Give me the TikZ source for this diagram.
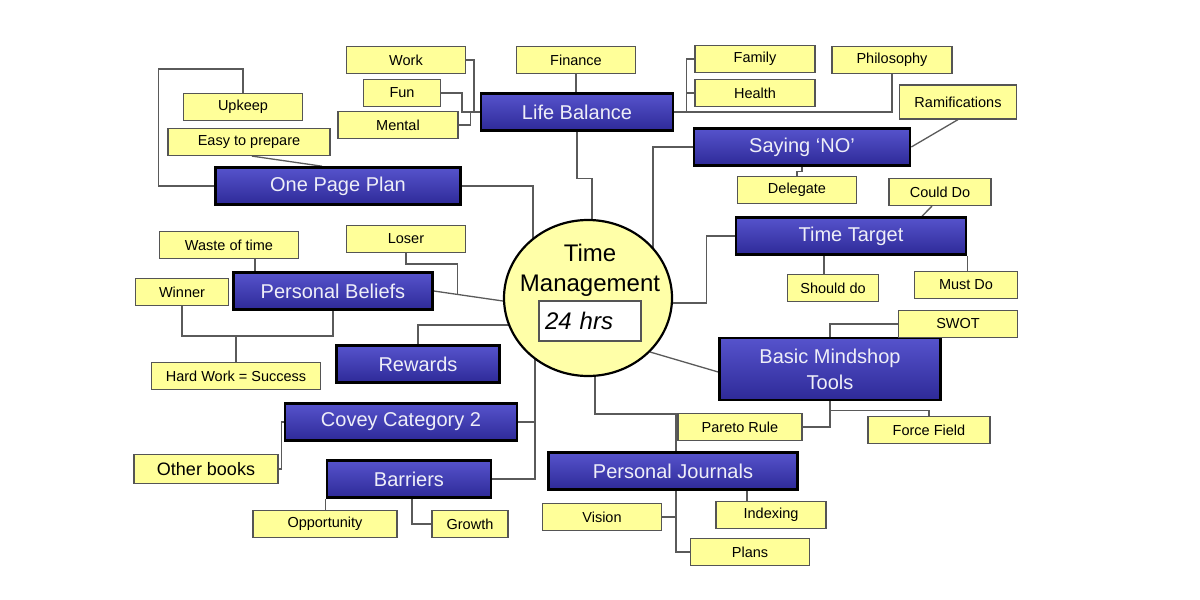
\documentclass[tikz,border=0pt]{standalone}
\usepackage{fontspec}
\setmainfont{Liberation Sans}
\usetikzlibrary{
  shapes.geometric,
  backgrounds,
  calc
}
\definecolor{itemfill}{HTML}{FFFF99}
\definecolor{itemline}{HTML}{555555}
\definecolor{topictop}{HTML}{5653CC}
\definecolor{topicbot}{HTML}{2E2A98}
\definecolor{topictext}{HTML}{EEEEF8}
\definecolor{hubfill}{HTML}{FFFFA8}
\definecolor{linkgrey}{HTML}{5A5A5A}
\tikzset{
  itembox/.style={
    rectangle, draw=itemline, fill=itemfill, line width=1.2pt,
    minimum width=#1, minimum height=27, inner sep=0pt,
    font=\fontsize{14.5}{16}\selectfont
  },
  itembox/.default=119,
  topicbox/.style={
    rectangle, draw=black, line width=2.6pt,
    top color=topictop, bottom color=topicbot, text=topictext,
    minimum width=#1, minimum height=37, inner sep=0pt, align=center,
    font=\fontsize{20}{26}\selectfont
  },
  hub/.style={
    ellipse, draw=black, line width=2.2pt, fill=hubfill,
    minimum width=168, minimum height=156, inner sep=0pt
  },
  hrsbox/.style={
    rectangle, draw=itemline, fill=white, line width=1.2pt,
    text width=90, inner xsep=6pt, minimum height=40, align=left,
    font=\fontsize{24}{28}\selectfont\itshape
  },
  link/.style={
    draw=linkgrey, line width=1.3pt
  },
}

\begin{document}
\begin{tikzpicture}[x=1pt,y=-1pt]
  \useasboundingbox (0,0) rectangle (1200,600);

  % centre
  \node[hub] (hub) at (588,298) {};
  \node[font=\fontsize{24}{30}\selectfont, align=center] (hubtitle) at (590,270) {Time\\Management};
  \node[hrsbox] (hrs) at (590,321) {24 hrs};

  % topics
  \node[topicbox=192] (balance) at (577,112) {Life Balance};
  \node[topicbox=216] (sayno) at (802,147) {Saying `NO'};
  \node[topicbox=245] (plan) at (338,186) {One Page Plan};
  \node[topicbox=230] (target) at (851,236) {Time Target};
  \node[topicbox=199] (beliefs) at (333,291) {Personal Beliefs};
  \node[topicbox=163] (rewards) at (418,364) {Rewards};
  \node[topicbox=221, minimum height=62] (tools) at (830,369) {Basic Mindshop\\Tools};
  \node[topicbox=232] (covey) at (401,422) {Covey Category 2};
  \node[topicbox=164] (barriers) at (409,479) {Barriers};
  \node[topicbox=249] (journals) at (673,471) {Personal Journals};

  % items
  \node[itembox] (work) at (406,60) {Work};
  \node[itembox=77] (fun) at (402,93) {Fun};
  \node[itembox=120] (mental) at (398,125) {Mental};
  \node[itembox] (finance) at (576,60) {Finance};
  \node[itembox=120] (family) at (755,59) {Family};
  \node[itembox=120] (health) at (755,93) {Health};
  \node[itembox=120] (philo) at (892,60) {Philosophy};
  \node[itembox=117, minimum height=34] (ramif) at (958,102) {Ramifications};
  \node[itembox] (upkeep) at (243,107) {Upkeep};
  \node[itembox=162] (easy) at (249,142) {Easy to prepare};
  \node[itembox] (delegate) at (797,190) {Delegate};
  \node[itembox=102] (could) at (940,192) {Could Do};
  \node[itembox=139] (waste) at (229,245) {Waste of time};
  \node[itembox] (loser) at (406,239) {Loser};
  \node[itembox=93] (winner) at (182,292) {Winner};
  \node[itembox=91] (should) at (833,288) {Should do};
  \node[itembox=103] (must) at (966,285) {Must Do};
  \node[itembox] (swot) at (958,324) {SWOT};
  \node[itembox=169] (hardwork) at (236,376) {Hard Work = Success};
  \node[itembox=124] (pareto) at (740,427) {Pareto Rule};
  \node[itembox=122] (force) at (929,430) {Force Field};
  \node[itembox=144, minimum height=29, font=\fontsize{18}{20}\selectfont] (books) at (206,469) {Other books};
  \node[itembox=144] (opport) at (325,524) {Opportunity};
  \node[itembox=76] (growth) at (470,524) {Growth};
  \node[itembox] (vision) at (602,517) {Vision};
  \node[itembox=110] (indexing) at (771,515) {Indexing};
  \node[itembox] (plans) at (750,552) {Plans};

  \begin{scope}[on background layer]
    % life balance
    \draw[link] (finance.south) -- (finance.south |- balance.north);
    \draw[link] (work.east) -- ++(8,0) |- (balance.west);
    \draw[link] (fun.east) -- ++(21,0) |- (balance.west);
    \draw[link] (mental.east) -- ++(12,0) |- (balance.west);
    \draw[link] (balance.east) -- ++(12,0) coordinate (lbr) |- (family.west);
    \draw[link] (lbr) |- (health.west);
    \draw[link] (balance.east) -| (philo.south);
    \draw[link] (balance.south) -- ++(0,47) -| ([xshift=4]hub.center);
    % saying no
    \draw[link] (sayno.south) -- ++(0,5) -| (delegate.north);
    \draw[link] (ramif.south) -- (sayno.east);
    \draw[link] (sayno.west) -| ([xshift=65]hub.center);
    % time target
    \draw[link] (target.west) -- ++(-28,0) |- ([yshift=-5]hub.center);
    \draw[link] ([xshift=-8]could.south) -- ([xshift=71]target.north);
    \draw[link] ([xshift=-27]target.south) -- ([xshift=-9]should.north);
    \draw[link] (target.south east) -- (target.south east |- must.north);
    % mindshop tools
    \draw[link] (hub.-41) -- ([yshift=-3]tools.west);
    \draw[link] (tools.north) |- (swot.west);
    \draw[link] (tools.south) |- (pareto.east);
    \draw[link] (tools.south) -- ++(0,9) -| (force.north);
    % journals
    \draw[link] ([xshift=7]hub.center) -- ++(0,116) -| ([xshift=3]journals.north);
    \draw[link] ([xshift=3]journals.south) |- (vision.east);
    \draw[link] ([xshift=3]journals.south) |- (plans.west);
    \draw[link] ([xshift=74]journals.south) -- ([xshift=74]journals.south |- indexing.north);
    % one page plan
    \draw[link] (plan.east) -| ([xshift=-55]hub.center);
    \draw[link] ([xshift=3]easy.south) -- ([xshift=-16]plan.north);
    \draw[link] (plan.west) -| ++(-56,-117) -| (upkeep.north);
    % beliefs
    \draw[link] (beliefs.east) -- coordinate[pos=0.34] (pbm) ([yshift=-3]hub.west);
    \draw[link] (loser.south) -- ++(0,11) -| (pbm);
    \draw[link] ([xshift=26]waste.south) -- ([xshift=26]waste.south |- beliefs.north);
    \draw[link] (winner.south) -- ++(0,30) coordinate (wj) -| (beliefs.south);
    \draw[link] (hardwork.north) -- (hardwork.north |- wj);
    % rewards, covey, barriers
    \draw[link] ([yshift=-27]hub.center) -| (rewards.north);
    \draw[link] ([xshift=-53]hub.center) |- (covey.east);
    \draw[link] ([xshift=-53]hub.center) |- (barriers.east);
    \draw[link] (covey.west) -- ++(-2,0) |- (books.east);
    \draw[link] (barriers.south west) -- (barriers.south west |- opport.north);
    \draw[link] ([xshift=3]barriers.south) |- (growth.west);
  \end{scope}
\end{tikzpicture}
\end{document}
